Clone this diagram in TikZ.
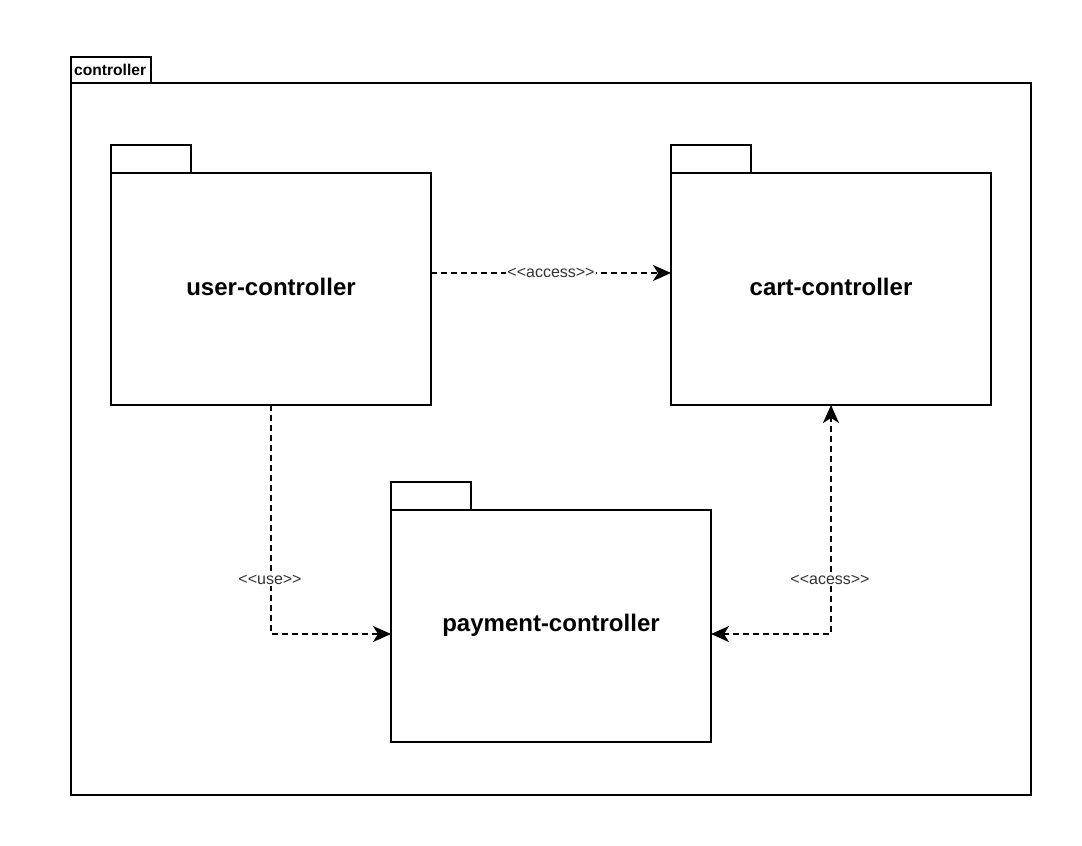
\documentclass[tikz,border=0pt]{standalone}
\usepackage{fontspec}
\setmainfont{Liberation Sans}[Ligatures=ResetAll]
\usetikzlibrary{arrows.meta}
\begin{document}
\begin{tikzpicture}[x=1pt,y=-1pt,
  box/.style={draw=black,line width=1.6pt,fill=white},
  title/.style={font=\fontsize{24}{28}\selectfont\bfseries},
  dep/.style={draw=black,line width=1.6pt,dash pattern=on 5.5pt off 4.5pt,-{Stealth[length=18pt,width=16pt,inset=5pt]}},
  elabel/.style={font=\fontsize{16}{19}\selectfont,text=black!80,fill=white,inner sep=1pt}]
\useasboundingbox (0,0) rectangle (1082,846);
% outer package
\draw[box] (71,57) rectangle (151,83);
\node[anchor=west,font=\fontsize{15.6}{18}\selectfont\bfseries,inner sep=0pt] (ctab) at (74,70) {controller};
\draw[box] (71,83) rectangle (1031,795);
% user-controller
\draw[box] (111,145) rectangle (191,173);
\draw[box] (111,173) rectangle (431,405);
\node[title] (user) at (271,287) {user-controller};
\coordinate (userR) at (431,273);
\coordinate (userB) at (271,405);
% cart-controller
\draw[box] (671,145) rectangle (751,173);
\draw[box] (671,173) rectangle (991,405);
\node[title] (cart) at (831,287) {cart-controller};
\coordinate (cartL) at (671,273);
\coordinate (cartB) at (831,405);
% payment-controller
\draw[box] (391,482) rectangle (471,510);
\draw[box] (391,510) rectangle (711,742);
\node[title] (pay) at (551,625) {payment-controller};
\coordinate (payL) at (391,634);
\coordinate (payR) at (711,634);
% connectors
\draw[dep] (userR) -- node[elabel] {<\kern0pt<access>\kern0pt>} (cartL);
\draw[dep] (userB) -- (271,634) -- (payL);
\node[elabel] (uselbl) at (270,580) {<\kern0pt<use>\kern0pt>};
\draw[dep,{Stealth[length=18pt,width=16pt,inset=5pt]}-{Stealth[length=18pt,width=16pt,inset=5pt]}] (payR) -- (831,634) -- (cartB);
\node[elabel] (acesslbl) at (830,580) {<\kern0pt<acess>\kern0pt>};
\end{tikzpicture}
\end{document}
